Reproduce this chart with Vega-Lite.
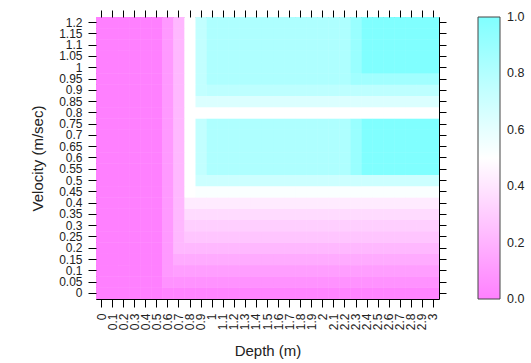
{
"$schema": "https://vega.github.io/schema/vega-lite/v6.json",
"width": 343, "height": 282,
"autosize": "none",
"padding": {"left": 96, "top": 17, "right": 92, "bottom": 64},
"background": "white",
"config": {
 "font": "Liberation Sans",
 "view": {"stroke": "#000", "strokeWidth": 1},
 "axis": {"domainColor": "#000", "tickColor": "#000", "tickSize": 8, "labelFont": "Liberation Sans", "labelFontSize": 12, "labelColor": "#222", "titleFont": "Liberation Sans", "titleFontSize": 15, "titleFontWeight": "normal", "titleColor": "#222", "grid": false, "labelOverlap": false, "labelBound": false}
},
"data": {"values": [
{"d":0,"v":0,"z":0},{"d":0.1,"v":0,"z":0},{"d":0.2,"v":0,"z":0},{"d":0.3,"v":0,"z":0},{"d":0.4,"v":0,"z":0},{"d":0.5,"v":0,"z":0},{"d":0.6,"v":0,"z":0.02},{"d":0.7,"v":0,"z":0.02},{"d":0.8,"v":0,"z":0.02},{"d":0.9,"v":0,"z":0.02},{"d":1,"v":0,"z":0.02},{"d":1.1,"v":0,"z":0.02},{"d":1.2,"v":0,"z":0.02},{"d":1.3,"v":0,"z":0.02},{"d":1.4,"v":0,"z":0.02},{"d":1.5,"v":0,"z":0.02},{"d":1.6,"v":0,"z":0.02},{"d":1.7,"v":0,"z":0.02},{"d":1.8,"v":0,"z":0.02},{"d":1.9,"v":0,"z":0.02},{"d":2,"v":0,"z":0.02},{"d":2.1,"v":0,"z":0.02},{"d":2.2,"v":0,"z":0.02},{"d":2.3,"v":0,"z":0.02},{"d":2.4,"v":0,"z":0.02},{"d":2.5,"v":0,"z":0.02},{"d":2.6,"v":0,"z":0.02},{"d":2.7,"v":0,"z":0.02},{"d":2.8,"v":0,"z":0.02},{"d":2.9,"v":0,"z":0.02},{"d":3,"v":0,"z":0.02},
{"d":0,"v":0.05,"z":0},{"d":0.1,"v":0.05,"z":0},{"d":0.2,"v":0.05,"z":0},{"d":0.3,"v":0.05,"z":0},{"d":0.4,"v":0.05,"z":0},{"d":0.5,"v":0.05,"z":0},{"d":0.6,"v":0.05,"z":0.07},{"d":0.7,"v":0.05,"z":0.07},{"d":0.8,"v":0.05,"z":0.07},{"d":0.9,"v":0.05,"z":0.07},{"d":1,"v":0.05,"z":0.07},{"d":1.1,"v":0.05,"z":0.07},{"d":1.2,"v":0.05,"z":0.07},{"d":1.3,"v":0.05,"z":0.07},{"d":1.4,"v":0.05,"z":0.07},{"d":1.5,"v":0.05,"z":0.07},{"d":1.6,"v":0.05,"z":0.07},{"d":1.7,"v":0.05,"z":0.07},{"d":1.8,"v":0.05,"z":0.07},{"d":1.9,"v":0.05,"z":0.07},{"d":2,"v":0.05,"z":0.07},{"d":2.1,"v":0.05,"z":0.07},{"d":2.2,"v":0.05,"z":0.07},{"d":2.3,"v":0.05,"z":0.07},{"d":2.4,"v":0.05,"z":0.07},{"d":2.5,"v":0.05,"z":0.07},{"d":2.6,"v":0.05,"z":0.07},{"d":2.7,"v":0.05,"z":0.07},{"d":2.8,"v":0.05,"z":0.07},{"d":2.9,"v":0.05,"z":0.07},{"d":3,"v":0.05,"z":0.07},
{"d":0,"v":0.1,"z":0},{"d":0.1,"v":0.1,"z":0},{"d":0.2,"v":0.1,"z":0},{"d":0.3,"v":0.1,"z":0},{"d":0.4,"v":0.1,"z":0},{"d":0.5,"v":0.1,"z":0},{"d":0.6,"v":0.1,"z":0.1},{"d":0.7,"v":0.1,"z":0.12},{"d":0.8,"v":0.1,"z":0.12},{"d":0.9,"v":0.1,"z":0.12},{"d":1,"v":0.1,"z":0.12},{"d":1.1,"v":0.1,"z":0.12},{"d":1.2,"v":0.1,"z":0.12},{"d":1.3,"v":0.1,"z":0.12},{"d":1.4,"v":0.1,"z":0.12},{"d":1.5,"v":0.1,"z":0.12},{"d":1.6,"v":0.1,"z":0.12},{"d":1.7,"v":0.1,"z":0.12},{"d":1.8,"v":0.1,"z":0.12},{"d":1.9,"v":0.1,"z":0.12},{"d":2,"v":0.1,"z":0.12},{"d":2.1,"v":0.1,"z":0.12},{"d":2.2,"v":0.1,"z":0.12},{"d":2.3,"v":0.1,"z":0.12},{"d":2.4,"v":0.1,"z":0.12},{"d":2.5,"v":0.1,"z":0.12},{"d":2.6,"v":0.1,"z":0.12},{"d":2.7,"v":0.1,"z":0.12},{"d":2.8,"v":0.1,"z":0.12},{"d":2.9,"v":0.1,"z":0.12},{"d":3,"v":0.1,"z":0.12},
{"d":0,"v":0.15,"z":0},{"d":0.1,"v":0.15,"z":0},{"d":0.2,"v":0.15,"z":0},{"d":0.3,"v":0.15,"z":0},{"d":0.4,"v":0.15,"z":0},{"d":0.5,"v":0.15,"z":0},{"d":0.6,"v":0.15,"z":0.1},{"d":0.7,"v":0.15,"z":0.17},{"d":0.8,"v":0.15,"z":0.17},{"d":0.9,"v":0.15,"z":0.17},{"d":1,"v":0.15,"z":0.17},{"d":1.1,"v":0.15,"z":0.17},{"d":1.2,"v":0.15,"z":0.17},{"d":1.3,"v":0.15,"z":0.17},{"d":1.4,"v":0.15,"z":0.17},{"d":1.5,"v":0.15,"z":0.17},{"d":1.6,"v":0.15,"z":0.17},{"d":1.7,"v":0.15,"z":0.17},{"d":1.8,"v":0.15,"z":0.17},{"d":1.9,"v":0.15,"z":0.17},{"d":2,"v":0.15,"z":0.17},{"d":2.1,"v":0.15,"z":0.17},{"d":2.2,"v":0.15,"z":0.17},{"d":2.3,"v":0.15,"z":0.17},{"d":2.4,"v":0.15,"z":0.17},{"d":2.5,"v":0.15,"z":0.17},{"d":2.6,"v":0.15,"z":0.17},{"d":2.7,"v":0.15,"z":0.17},{"d":2.8,"v":0.15,"z":0.17},{"d":2.9,"v":0.15,"z":0.17},{"d":3,"v":0.15,"z":0.17},
{"d":0,"v":0.2,"z":0},{"d":0.1,"v":0.2,"z":0},{"d":0.2,"v":0.2,"z":0},{"d":0.3,"v":0.2,"z":0},{"d":0.4,"v":0.2,"z":0},{"d":0.5,"v":0.2,"z":0},{"d":0.6,"v":0.2,"z":0.1},{"d":0.7,"v":0.2,"z":0.22},{"d":0.8,"v":0.2,"z":0.22},{"d":0.9,"v":0.2,"z":0.22},{"d":1,"v":0.2,"z":0.22},{"d":1.1,"v":0.2,"z":0.22},{"d":1.2,"v":0.2,"z":0.22},{"d":1.3,"v":0.2,"z":0.22},{"d":1.4,"v":0.2,"z":0.22},{"d":1.5,"v":0.2,"z":0.22},{"d":1.6,"v":0.2,"z":0.22},{"d":1.7,"v":0.2,"z":0.22},{"d":1.8,"v":0.2,"z":0.22},{"d":1.9,"v":0.2,"z":0.22},{"d":2,"v":0.2,"z":0.22},{"d":2.1,"v":0.2,"z":0.22},{"d":2.2,"v":0.2,"z":0.22},{"d":2.3,"v":0.2,"z":0.22},{"d":2.4,"v":0.2,"z":0.22},{"d":2.5,"v":0.2,"z":0.22},{"d":2.6,"v":0.2,"z":0.22},{"d":2.7,"v":0.2,"z":0.22},{"d":2.8,"v":0.2,"z":0.22},{"d":2.9,"v":0.2,"z":0.22},{"d":3,"v":0.2,"z":0.22},
{"d":0,"v":0.25,"z":0},{"d":0.1,"v":0.25,"z":0},{"d":0.2,"v":0.25,"z":0},{"d":0.3,"v":0.25,"z":0},{"d":0.4,"v":0.25,"z":0},{"d":0.5,"v":0.25,"z":0},{"d":0.6,"v":0.25,"z":0.1},{"d":0.7,"v":0.25,"z":0.22},{"d":0.8,"v":0.25,"z":0.27},{"d":0.9,"v":0.25,"z":0.27},{"d":1,"v":0.25,"z":0.27},{"d":1.1,"v":0.25,"z":0.27},{"d":1.2,"v":0.25,"z":0.27},{"d":1.3,"v":0.25,"z":0.27},{"d":1.4,"v":0.25,"z":0.27},{"d":1.5,"v":0.25,"z":0.27},{"d":1.6,"v":0.25,"z":0.27},{"d":1.7,"v":0.25,"z":0.27},{"d":1.8,"v":0.25,"z":0.27},{"d":1.9,"v":0.25,"z":0.27},{"d":2,"v":0.25,"z":0.27},{"d":2.1,"v":0.25,"z":0.27},{"d":2.2,"v":0.25,"z":0.27},{"d":2.3,"v":0.25,"z":0.27},{"d":2.4,"v":0.25,"z":0.27},{"d":2.5,"v":0.25,"z":0.27},{"d":2.6,"v":0.25,"z":0.27},{"d":2.7,"v":0.25,"z":0.27},{"d":2.8,"v":0.25,"z":0.27},{"d":2.9,"v":0.25,"z":0.27},{"d":3,"v":0.25,"z":0.27},
{"d":0,"v":0.3,"z":0},{"d":0.1,"v":0.3,"z":0},{"d":0.2,"v":0.3,"z":0},{"d":0.3,"v":0.3,"z":0},{"d":0.4,"v":0.3,"z":0},{"d":0.5,"v":0.3,"z":0},{"d":0.6,"v":0.3,"z":0.1},{"d":0.7,"v":0.3,"z":0.22},{"d":0.8,"v":0.3,"z":0.31},{"d":0.9,"v":0.3,"z":0.31},{"d":1,"v":0.3,"z":0.31},{"d":1.1,"v":0.3,"z":0.31},{"d":1.2,"v":0.3,"z":0.31},{"d":1.3,"v":0.3,"z":0.31},{"d":1.4,"v":0.3,"z":0.31},{"d":1.5,"v":0.3,"z":0.31},{"d":1.6,"v":0.3,"z":0.31},{"d":1.7,"v":0.3,"z":0.31},{"d":1.8,"v":0.3,"z":0.31},{"d":1.9,"v":0.3,"z":0.31},{"d":2,"v":0.3,"z":0.31},{"d":2.1,"v":0.3,"z":0.31},{"d":2.2,"v":0.3,"z":0.31},{"d":2.3,"v":0.3,"z":0.31},{"d":2.4,"v":0.3,"z":0.31},{"d":2.5,"v":0.3,"z":0.31},{"d":2.6,"v":0.3,"z":0.31},{"d":2.7,"v":0.3,"z":0.31},{"d":2.8,"v":0.3,"z":0.31},{"d":2.9,"v":0.3,"z":0.31},{"d":3,"v":0.3,"z":0.31},
{"d":0,"v":0.35,"z":0},{"d":0.1,"v":0.35,"z":0},{"d":0.2,"v":0.35,"z":0},{"d":0.3,"v":0.35,"z":0},{"d":0.4,"v":0.35,"z":0},{"d":0.5,"v":0.35,"z":0},{"d":0.6,"v":0.35,"z":0.1},{"d":0.7,"v":0.35,"z":0.22},{"d":0.8,"v":0.35,"z":0.36},{"d":0.9,"v":0.35,"z":0.36},{"d":1,"v":0.35,"z":0.36},{"d":1.1,"v":0.35,"z":0.36},{"d":1.2,"v":0.35,"z":0.36},{"d":1.3,"v":0.35,"z":0.36},{"d":1.4,"v":0.35,"z":0.36},{"d":1.5,"v":0.35,"z":0.36},{"d":1.6,"v":0.35,"z":0.36},{"d":1.7,"v":0.35,"z":0.36},{"d":1.8,"v":0.35,"z":0.36},{"d":1.9,"v":0.35,"z":0.36},{"d":2,"v":0.35,"z":0.36},{"d":2.1,"v":0.35,"z":0.36},{"d":2.2,"v":0.35,"z":0.36},{"d":2.3,"v":0.35,"z":0.36},{"d":2.4,"v":0.35,"z":0.36},{"d":2.5,"v":0.35,"z":0.36},{"d":2.6,"v":0.35,"z":0.36},{"d":2.7,"v":0.35,"z":0.36},{"d":2.8,"v":0.35,"z":0.36},{"d":2.9,"v":0.35,"z":0.36},{"d":3,"v":0.35,"z":0.36},
{"d":0,"v":0.4,"z":0},{"d":0.1,"v":0.4,"z":0},{"d":0.2,"v":0.4,"z":0},{"d":0.3,"v":0.4,"z":0},{"d":0.4,"v":0.4,"z":0},{"d":0.5,"v":0.4,"z":0},{"d":0.6,"v":0.4,"z":0.1},{"d":0.7,"v":0.4,"z":0.22},{"d":0.8,"v":0.4,"z":0.42},{"d":0.9,"v":0.4,"z":0.42},{"d":1,"v":0.4,"z":0.42},{"d":1.1,"v":0.4,"z":0.42},{"d":1.2,"v":0.4,"z":0.42},{"d":1.3,"v":0.4,"z":0.42},{"d":1.4,"v":0.4,"z":0.42},{"d":1.5,"v":0.4,"z":0.42},{"d":1.6,"v":0.4,"z":0.42},{"d":1.7,"v":0.4,"z":0.42},{"d":1.8,"v":0.4,"z":0.42},{"d":1.9,"v":0.4,"z":0.42},{"d":2,"v":0.4,"z":0.42},{"d":2.1,"v":0.4,"z":0.42},{"d":2.2,"v":0.4,"z":0.42},{"d":2.3,"v":0.4,"z":0.42},{"d":2.4,"v":0.4,"z":0.42},{"d":2.5,"v":0.4,"z":0.42},{"d":2.6,"v":0.4,"z":0.42},{"d":2.7,"v":0.4,"z":0.42},{"d":2.8,"v":0.4,"z":0.42},{"d":2.9,"v":0.4,"z":0.42},{"d":3,"v":0.4,"z":0.42},
{"d":0,"v":0.45,"z":0},{"d":0.1,"v":0.45,"z":0},{"d":0.2,"v":0.45,"z":0},{"d":0.3,"v":0.45,"z":0},{"d":0.4,"v":0.45,"z":0},{"d":0.5,"v":0.45,"z":0},{"d":0.6,"v":0.45,"z":0.1},{"d":0.7,"v":0.45,"z":0.22},{"d":0.8,"v":0.45,"z":0.5},{"d":0.9,"v":0.45,"z":0.52},{"d":1,"v":0.45,"z":0.52},{"d":1.1,"v":0.45,"z":0.52},{"d":1.2,"v":0.45,"z":0.52},{"d":1.3,"v":0.45,"z":0.52},{"d":1.4,"v":0.45,"z":0.52},{"d":1.5,"v":0.45,"z":0.52},{"d":1.6,"v":0.45,"z":0.52},{"d":1.7,"v":0.45,"z":0.52},{"d":1.8,"v":0.45,"z":0.52},{"d":1.9,"v":0.45,"z":0.52},{"d":2,"v":0.45,"z":0.52},{"d":2.1,"v":0.45,"z":0.52},{"d":2.2,"v":0.45,"z":0.52},{"d":2.3,"v":0.45,"z":0.52},{"d":2.4,"v":0.45,"z":0.52},{"d":2.5,"v":0.45,"z":0.52},{"d":2.6,"v":0.45,"z":0.52},{"d":2.7,"v":0.45,"z":0.52},{"d":2.8,"v":0.45,"z":0.52},{"d":2.9,"v":0.45,"z":0.52},{"d":3,"v":0.45,"z":0.52},
{"d":0,"v":0.5,"z":0},{"d":0.1,"v":0.5,"z":0},{"d":0.2,"v":0.5,"z":0},{"d":0.3,"v":0.5,"z":0},{"d":0.4,"v":0.5,"z":0},{"d":0.5,"v":0.5,"z":0},{"d":0.6,"v":0.5,"z":0.1},{"d":0.7,"v":0.5,"z":0.22},{"d":0.8,"v":0.5,"z":0.5},{"d":0.9,"v":0.5,"z":0.7},{"d":1,"v":0.5,"z":0.7},{"d":1.1,"v":0.5,"z":0.7},{"d":1.2,"v":0.5,"z":0.7},{"d":1.3,"v":0.5,"z":0.7},{"d":1.4,"v":0.5,"z":0.7},{"d":1.5,"v":0.5,"z":0.7},{"d":1.6,"v":0.5,"z":0.7},{"d":1.7,"v":0.5,"z":0.7},{"d":1.8,"v":0.5,"z":0.7},{"d":1.9,"v":0.5,"z":0.7},{"d":2,"v":0.5,"z":0.7},{"d":2.1,"v":0.5,"z":0.7},{"d":2.2,"v":0.5,"z":0.7},{"d":2.3,"v":0.5,"z":0.7},{"d":2.4,"v":0.5,"z":0.7},{"d":2.5,"v":0.5,"z":0.7},{"d":2.6,"v":0.5,"z":0.7},{"d":2.7,"v":0.5,"z":0.7},{"d":2.8,"v":0.5,"z":0.7},{"d":2.9,"v":0.5,"z":0.7},{"d":3,"v":0.5,"z":0.7},
{"d":0,"v":0.55,"z":0},{"d":0.1,"v":0.55,"z":0},{"d":0.2,"v":0.55,"z":0},{"d":0.3,"v":0.55,"z":0},{"d":0.4,"v":0.55,"z":0},{"d":0.5,"v":0.55,"z":0},{"d":0.6,"v":0.55,"z":0.1},{"d":0.7,"v":0.55,"z":0.22},{"d":0.8,"v":0.55,"z":0.5},{"d":0.9,"v":0.55,"z":0.74},{"d":1,"v":0.55,"z":0.82},{"d":1.1,"v":0.55,"z":0.82},{"d":1.2,"v":0.55,"z":0.82},{"d":1.3,"v":0.55,"z":0.82},{"d":1.4,"v":0.55,"z":0.82},{"d":1.5,"v":0.55,"z":0.82},{"d":1.6,"v":0.55,"z":0.82},{"d":1.7,"v":0.55,"z":0.82},{"d":1.8,"v":0.55,"z":0.82},{"d":1.9,"v":0.55,"z":0.82},{"d":2,"v":0.55,"z":0.82},{"d":2.1,"v":0.55,"z":0.82},{"d":2.2,"v":0.55,"z":0.82},{"d":2.3,"v":0.55,"z":0.9},{"d":2.4,"v":0.55,"z":1},{"d":2.5,"v":0.55,"z":1},{"d":2.6,"v":0.55,"z":1},{"d":2.7,"v":0.55,"z":1},{"d":2.8,"v":0.55,"z":1},{"d":2.9,"v":0.55,"z":1},{"d":3,"v":0.55,"z":1},
{"d":0,"v":0.6,"z":0},{"d":0.1,"v":0.6,"z":0},{"d":0.2,"v":0.6,"z":0},{"d":0.3,"v":0.6,"z":0},{"d":0.4,"v":0.6,"z":0},{"d":0.5,"v":0.6,"z":0},{"d":0.6,"v":0.6,"z":0.1},{"d":0.7,"v":0.6,"z":0.22},{"d":0.8,"v":0.6,"z":0.5},{"d":0.9,"v":0.6,"z":0.74},{"d":1,"v":0.6,"z":0.82},{"d":1.1,"v":0.6,"z":0.82},{"d":1.2,"v":0.6,"z":0.82},{"d":1.3,"v":0.6,"z":0.82},{"d":1.4,"v":0.6,"z":0.82},{"d":1.5,"v":0.6,"z":0.82},{"d":1.6,"v":0.6,"z":0.82},{"d":1.7,"v":0.6,"z":0.82},{"d":1.8,"v":0.6,"z":0.82},{"d":1.9,"v":0.6,"z":0.82},{"d":2,"v":0.6,"z":0.82},{"d":2.1,"v":0.6,"z":0.82},{"d":2.2,"v":0.6,"z":0.82},{"d":2.3,"v":0.6,"z":0.9},{"d":2.4,"v":0.6,"z":1},{"d":2.5,"v":0.6,"z":1},{"d":2.6,"v":0.6,"z":1},{"d":2.7,"v":0.6,"z":1},{"d":2.8,"v":0.6,"z":1},{"d":2.9,"v":0.6,"z":1},{"d":3,"v":0.6,"z":1},
{"d":0,"v":0.65,"z":0},{"d":0.1,"v":0.65,"z":0},{"d":0.2,"v":0.65,"z":0},{"d":0.3,"v":0.65,"z":0},{"d":0.4,"v":0.65,"z":0},{"d":0.5,"v":0.65,"z":0},{"d":0.6,"v":0.65,"z":0.1},{"d":0.7,"v":0.65,"z":0.22},{"d":0.8,"v":0.65,"z":0.5},{"d":0.9,"v":0.65,"z":0.74},{"d":1,"v":0.65,"z":0.82},{"d":1.1,"v":0.65,"z":0.82},{"d":1.2,"v":0.65,"z":0.82},{"d":1.3,"v":0.65,"z":0.82},{"d":1.4,"v":0.65,"z":0.82},{"d":1.5,"v":0.65,"z":0.82},{"d":1.6,"v":0.65,"z":0.82},{"d":1.7,"v":0.65,"z":0.82},{"d":1.8,"v":0.65,"z":0.82},{"d":1.9,"v":0.65,"z":0.82},{"d":2,"v":0.65,"z":0.82},{"d":2.1,"v":0.65,"z":0.82},{"d":2.2,"v":0.65,"z":0.82},{"d":2.3,"v":0.65,"z":0.9},{"d":2.4,"v":0.65,"z":1},{"d":2.5,"v":0.65,"z":1},{"d":2.6,"v":0.65,"z":1},{"d":2.7,"v":0.65,"z":1},{"d":2.8,"v":0.65,"z":1},{"d":2.9,"v":0.65,"z":1},{"d":3,"v":0.65,"z":1},
{"d":0,"v":0.7,"z":0},{"d":0.1,"v":0.7,"z":0},{"d":0.2,"v":0.7,"z":0},{"d":0.3,"v":0.7,"z":0},{"d":0.4,"v":0.7,"z":0},{"d":0.5,"v":0.7,"z":0},{"d":0.6,"v":0.7,"z":0.1},{"d":0.7,"v":0.7,"z":0.22},{"d":0.8,"v":0.7,"z":0.5},{"d":0.9,"v":0.7,"z":0.74},{"d":1,"v":0.7,"z":0.82},{"d":1.1,"v":0.7,"z":0.82},{"d":1.2,"v":0.7,"z":0.82},{"d":1.3,"v":0.7,"z":0.82},{"d":1.4,"v":0.7,"z":0.82},{"d":1.5,"v":0.7,"z":0.82},{"d":1.6,"v":0.7,"z":0.82},{"d":1.7,"v":0.7,"z":0.82},{"d":1.8,"v":0.7,"z":0.82},{"d":1.9,"v":0.7,"z":0.82},{"d":2,"v":0.7,"z":0.82},{"d":2.1,"v":0.7,"z":0.82},{"d":2.2,"v":0.7,"z":0.82},{"d":2.3,"v":0.7,"z":0.9},{"d":2.4,"v":0.7,"z":1},{"d":2.5,"v":0.7,"z":1},{"d":2.6,"v":0.7,"z":1},{"d":2.7,"v":0.7,"z":1},{"d":2.8,"v":0.7,"z":1},{"d":2.9,"v":0.7,"z":1},{"d":3,"v":0.7,"z":1},
{"d":0,"v":0.75,"z":0},{"d":0.1,"v":0.75,"z":0},{"d":0.2,"v":0.75,"z":0},{"d":0.3,"v":0.75,"z":0},{"d":0.4,"v":0.75,"z":0},{"d":0.5,"v":0.75,"z":0},{"d":0.6,"v":0.75,"z":0.1},{"d":0.7,"v":0.75,"z":0.22},{"d":0.8,"v":0.75,"z":0.5},{"d":0.9,"v":0.75,"z":0.74},{"d":1,"v":0.75,"z":0.82},{"d":1.1,"v":0.75,"z":0.82},{"d":1.2,"v":0.75,"z":0.82},{"d":1.3,"v":0.75,"z":0.82},{"d":1.4,"v":0.75,"z":0.82},{"d":1.5,"v":0.75,"z":0.82},{"d":1.6,"v":0.75,"z":0.82},{"d":1.7,"v":0.75,"z":0.82},{"d":1.8,"v":0.75,"z":0.82},{"d":1.9,"v":0.75,"z":0.82},{"d":2,"v":0.75,"z":0.82},{"d":2.1,"v":0.75,"z":0.82},{"d":2.2,"v":0.75,"z":0.82},{"d":2.3,"v":0.75,"z":0.9},{"d":2.4,"v":0.75,"z":1},{"d":2.5,"v":0.75,"z":1},{"d":2.6,"v":0.75,"z":1},{"d":2.7,"v":0.75,"z":1},{"d":2.8,"v":0.75,"z":1},{"d":2.9,"v":0.75,"z":1},{"d":3,"v":0.75,"z":1},
{"d":0,"v":0.8,"z":0},{"d":0.1,"v":0.8,"z":0},{"d":0.2,"v":0.8,"z":0},{"d":0.3,"v":0.8,"z":0},{"d":0.4,"v":0.8,"z":0},{"d":0.5,"v":0.8,"z":0},{"d":0.6,"v":0.8,"z":0.1},{"d":0.7,"v":0.8,"z":0.22},{"d":0.8,"v":0.8,"z":0.5},{"d":0.9,"v":0.8,"z":0.5},{"d":1,"v":0.8,"z":0.5},{"d":1.1,"v":0.8,"z":0.5},{"d":1.2,"v":0.8,"z":0.5},{"d":1.3,"v":0.8,"z":0.5},{"d":1.4,"v":0.8,"z":0.5},{"d":1.5,"v":0.8,"z":0.5},{"d":1.6,"v":0.8,"z":0.5},{"d":1.7,"v":0.8,"z":0.5},{"d":1.8,"v":0.8,"z":0.5},{"d":1.9,"v":0.8,"z":0.5},{"d":2,"v":0.8,"z":0.5},{"d":2.1,"v":0.8,"z":0.5},{"d":2.2,"v":0.8,"z":0.5},{"d":2.3,"v":0.8,"z":0.5},{"d":2.4,"v":0.8,"z":0.5},{"d":2.5,"v":0.8,"z":0.5},{"d":2.6,"v":0.8,"z":0.5},{"d":2.7,"v":0.8,"z":0.5},{"d":2.8,"v":0.8,"z":0.5},{"d":2.9,"v":0.8,"z":0.5},{"d":3,"v":0.8,"z":0.5},
{"d":0,"v":0.85,"z":0},{"d":0.1,"v":0.85,"z":0},{"d":0.2,"v":0.85,"z":0},{"d":0.3,"v":0.85,"z":0},{"d":0.4,"v":0.85,"z":0},{"d":0.5,"v":0.85,"z":0},{"d":0.6,"v":0.85,"z":0.1},{"d":0.7,"v":0.85,"z":0.22},{"d":0.8,"v":0.85,"z":0.5},{"d":0.9,"v":0.85,"z":0.64},{"d":1,"v":0.85,"z":0.64},{"d":1.1,"v":0.85,"z":0.64},{"d":1.2,"v":0.85,"z":0.64},{"d":1.3,"v":0.85,"z":0.64},{"d":1.4,"v":0.85,"z":0.64},{"d":1.5,"v":0.85,"z":0.64},{"d":1.6,"v":0.85,"z":0.64},{"d":1.7,"v":0.85,"z":0.64},{"d":1.8,"v":0.85,"z":0.64},{"d":1.9,"v":0.85,"z":0.64},{"d":2,"v":0.85,"z":0.64},{"d":2.1,"v":0.85,"z":0.64},{"d":2.2,"v":0.85,"z":0.64},{"d":2.3,"v":0.85,"z":0.64},{"d":2.4,"v":0.85,"z":0.64},{"d":2.5,"v":0.85,"z":0.64},{"d":2.6,"v":0.85,"z":0.64},{"d":2.7,"v":0.85,"z":0.64},{"d":2.8,"v":0.85,"z":0.64},{"d":2.9,"v":0.85,"z":0.64},{"d":3,"v":0.85,"z":0.64},
{"d":0,"v":0.9,"z":0},{"d":0.1,"v":0.9,"z":0},{"d":0.2,"v":0.9,"z":0},{"d":0.3,"v":0.9,"z":0},{"d":0.4,"v":0.9,"z":0},{"d":0.5,"v":0.9,"z":0},{"d":0.6,"v":0.9,"z":0.1},{"d":0.7,"v":0.9,"z":0.22},{"d":0.8,"v":0.9,"z":0.5},{"d":0.9,"v":0.9,"z":0.74},{"d":1,"v":0.9,"z":0.76},{"d":1.1,"v":0.9,"z":0.76},{"d":1.2,"v":0.9,"z":0.76},{"d":1.3,"v":0.9,"z":0.76},{"d":1.4,"v":0.9,"z":0.76},{"d":1.5,"v":0.9,"z":0.76},{"d":1.6,"v":0.9,"z":0.76},{"d":1.7,"v":0.9,"z":0.76},{"d":1.8,"v":0.9,"z":0.76},{"d":1.9,"v":0.9,"z":0.76},{"d":2,"v":0.9,"z":0.76},{"d":2.1,"v":0.9,"z":0.76},{"d":2.2,"v":0.9,"z":0.76},{"d":2.3,"v":0.9,"z":0.76},{"d":2.4,"v":0.9,"z":0.76},{"d":2.5,"v":0.9,"z":0.76},{"d":2.6,"v":0.9,"z":0.76},{"d":2.7,"v":0.9,"z":0.76},{"d":2.8,"v":0.9,"z":0.76},{"d":2.9,"v":0.9,"z":0.76},{"d":3,"v":0.9,"z":0.76},
{"d":0,"v":0.95,"z":0},{"d":0.1,"v":0.95,"z":0},{"d":0.2,"v":0.95,"z":0},{"d":0.3,"v":0.95,"z":0},{"d":0.4,"v":0.95,"z":0},{"d":0.5,"v":0.95,"z":0},{"d":0.6,"v":0.95,"z":0.1},{"d":0.7,"v":0.95,"z":0.22},{"d":0.8,"v":0.95,"z":0.5},{"d":0.9,"v":0.95,"z":0.74},{"d":1,"v":0.95,"z":0.82},{"d":1.1,"v":0.95,"z":0.82},{"d":1.2,"v":0.95,"z":0.82},{"d":1.3,"v":0.95,"z":0.82},{"d":1.4,"v":0.95,"z":0.82},{"d":1.5,"v":0.95,"z":0.82},{"d":1.6,"v":0.95,"z":0.82},{"d":1.7,"v":0.95,"z":0.82},{"d":1.8,"v":0.95,"z":0.82},{"d":1.9,"v":0.95,"z":0.82},{"d":2,"v":0.95,"z":0.82},{"d":2.1,"v":0.95,"z":0.82},{"d":2.2,"v":0.95,"z":0.82},{"d":2.3,"v":0.95,"z":0.87},{"d":2.4,"v":0.95,"z":0.87},{"d":2.5,"v":0.95,"z":0.87},{"d":2.6,"v":0.95,"z":0.87},{"d":2.7,"v":0.95,"z":0.87},{"d":2.8,"v":0.95,"z":0.87},{"d":2.9,"v":0.95,"z":0.87},{"d":3,"v":0.95,"z":0.87},
{"d":0,"v":1,"z":0},{"d":0.1,"v":1,"z":0},{"d":0.2,"v":1,"z":0},{"d":0.3,"v":1,"z":0},{"d":0.4,"v":1,"z":0},{"d":0.5,"v":1,"z":0},{"d":0.6,"v":1,"z":0.1},{"d":0.7,"v":1,"z":0.22},{"d":0.8,"v":1,"z":0.5},{"d":0.9,"v":1,"z":0.74},{"d":1,"v":1,"z":0.82},{"d":1.1,"v":1,"z":0.82},{"d":1.2,"v":1,"z":0.82},{"d":1.3,"v":1,"z":0.82},{"d":1.4,"v":1,"z":0.82},{"d":1.5,"v":1,"z":0.82},{"d":1.6,"v":1,"z":0.82},{"d":1.7,"v":1,"z":0.82},{"d":1.8,"v":1,"z":0.82},{"d":1.9,"v":1,"z":0.82},{"d":2,"v":1,"z":0.82},{"d":2.1,"v":1,"z":0.82},{"d":2.2,"v":1,"z":0.82},{"d":2.3,"v":1,"z":0.9},{"d":2.4,"v":1,"z":1},{"d":2.5,"v":1,"z":1},{"d":2.6,"v":1,"z":1},{"d":2.7,"v":1,"z":1},{"d":2.8,"v":1,"z":1},{"d":2.9,"v":1,"z":1},{"d":3,"v":1,"z":1},
{"d":0,"v":1.05,"z":0},{"d":0.1,"v":1.05,"z":0},{"d":0.2,"v":1.05,"z":0},{"d":0.3,"v":1.05,"z":0},{"d":0.4,"v":1.05,"z":0},{"d":0.5,"v":1.05,"z":0},{"d":0.6,"v":1.05,"z":0.1},{"d":0.7,"v":1.05,"z":0.22},{"d":0.8,"v":1.05,"z":0.5},{"d":0.9,"v":1.05,"z":0.74},{"d":1,"v":1.05,"z":0.82},{"d":1.1,"v":1.05,"z":0.82},{"d":1.2,"v":1.05,"z":0.82},{"d":1.3,"v":1.05,"z":0.82},{"d":1.4,"v":1.05,"z":0.82},{"d":1.5,"v":1.05,"z":0.82},{"d":1.6,"v":1.05,"z":0.82},{"d":1.7,"v":1.05,"z":0.82},{"d":1.8,"v":1.05,"z":0.82},{"d":1.9,"v":1.05,"z":0.82},{"d":2,"v":1.05,"z":0.82},{"d":2.1,"v":1.05,"z":0.82},{"d":2.2,"v":1.05,"z":0.82},{"d":2.3,"v":1.05,"z":0.9},{"d":2.4,"v":1.05,"z":1},{"d":2.5,"v":1.05,"z":1},{"d":2.6,"v":1.05,"z":1},{"d":2.7,"v":1.05,"z":1},{"d":2.8,"v":1.05,"z":1},{"d":2.9,"v":1.05,"z":1},{"d":3,"v":1.05,"z":1},
{"d":0,"v":1.1,"z":0},{"d":0.1,"v":1.1,"z":0},{"d":0.2,"v":1.1,"z":0},{"d":0.3,"v":1.1,"z":0},{"d":0.4,"v":1.1,"z":0},{"d":0.5,"v":1.1,"z":0},{"d":0.6,"v":1.1,"z":0.1},{"d":0.7,"v":1.1,"z":0.22},{"d":0.8,"v":1.1,"z":0.5},{"d":0.9,"v":1.1,"z":0.74},{"d":1,"v":1.1,"z":0.82},{"d":1.1,"v":1.1,"z":0.82},{"d":1.2,"v":1.1,"z":0.82},{"d":1.3,"v":1.1,"z":0.82},{"d":1.4,"v":1.1,"z":0.82},{"d":1.5,"v":1.1,"z":0.82},{"d":1.6,"v":1.1,"z":0.82},{"d":1.7,"v":1.1,"z":0.82},{"d":1.8,"v":1.1,"z":0.82},{"d":1.9,"v":1.1,"z":0.82},{"d":2,"v":1.1,"z":0.82},{"d":2.1,"v":1.1,"z":0.82},{"d":2.2,"v":1.1,"z":0.82},{"d":2.3,"v":1.1,"z":0.9},{"d":2.4,"v":1.1,"z":1},{"d":2.5,"v":1.1,"z":1},{"d":2.6,"v":1.1,"z":1},{"d":2.7,"v":1.1,"z":1},{"d":2.8,"v":1.1,"z":1},{"d":2.9,"v":1.1,"z":1},{"d":3,"v":1.1,"z":1},
{"d":0,"v":1.15,"z":0},{"d":0.1,"v":1.15,"z":0},{"d":0.2,"v":1.15,"z":0},{"d":0.3,"v":1.15,"z":0},{"d":0.4,"v":1.15,"z":0},{"d":0.5,"v":1.15,"z":0},{"d":0.6,"v":1.15,"z":0.1},{"d":0.7,"v":1.15,"z":0.22},{"d":0.8,"v":1.15,"z":0.5},{"d":0.9,"v":1.15,"z":0.74},{"d":1,"v":1.15,"z":0.82},{"d":1.1,"v":1.15,"z":0.82},{"d":1.2,"v":1.15,"z":0.82},{"d":1.3,"v":1.15,"z":0.82},{"d":1.4,"v":1.15,"z":0.82},{"d":1.5,"v":1.15,"z":0.82},{"d":1.6,"v":1.15,"z":0.82},{"d":1.7,"v":1.15,"z":0.82},{"d":1.8,"v":1.15,"z":0.82},{"d":1.9,"v":1.15,"z":0.82},{"d":2,"v":1.15,"z":0.82},{"d":2.1,"v":1.15,"z":0.82},{"d":2.2,"v":1.15,"z":0.82},{"d":2.3,"v":1.15,"z":0.9},{"d":2.4,"v":1.15,"z":1},{"d":2.5,"v":1.15,"z":1},{"d":2.6,"v":1.15,"z":1},{"d":2.7,"v":1.15,"z":1},{"d":2.8,"v":1.15,"z":1},{"d":2.9,"v":1.15,"z":1},{"d":3,"v":1.15,"z":1},
{"d":0,"v":1.2,"z":0},{"d":0.1,"v":1.2,"z":0},{"d":0.2,"v":1.2,"z":0},{"d":0.3,"v":1.2,"z":0},{"d":0.4,"v":1.2,"z":0},{"d":0.5,"v":1.2,"z":0},{"d":0.6,"v":1.2,"z":0.1},{"d":0.7,"v":1.2,"z":0.22},{"d":0.8,"v":1.2,"z":0.5},{"d":0.9,"v":1.2,"z":0.74},{"d":1,"v":1.2,"z":0.82},{"d":1.1,"v":1.2,"z":0.82},{"d":1.2,"v":1.2,"z":0.82},{"d":1.3,"v":1.2,"z":0.82},{"d":1.4,"v":1.2,"z":0.82},{"d":1.5,"v":1.2,"z":0.82},{"d":1.6,"v":1.2,"z":0.82},{"d":1.7,"v":1.2,"z":0.82},{"d":1.8,"v":1.2,"z":0.82},{"d":1.9,"v":1.2,"z":0.82},{"d":2,"v":1.2,"z":0.82},{"d":2.1,"v":1.2,"z":0.82},{"d":2.2,"v":1.2,"z":0.82},{"d":2.3,"v":1.2,"z":0.9},{"d":2.4,"v":1.2,"z":1},{"d":2.5,"v":1.2,"z":1},{"d":2.6,"v":1.2,"z":1},{"d":2.7,"v":1.2,"z":1},{"d":2.8,"v":1.2,"z":1},{"d":2.9,"v":1.2,"z":1},{"d":3,"v":1.2,"z":1}
]},
"layer": [
 {
  "mark": {"type": "rect"},
  "encoding": {
   "x": {"field": "d", "type": "ordinal", "scale": {"paddingInner": 0, "paddingOuter": 0},
         "axis": {"orient": "bottom", "labelAngle": -90, "labelPadding": 6, "title": "Depth (m)", "titlePadding": 14, "domain": false}},
   "y": {"field": "v", "type": "ordinal", "sort": "descending", "scale": {"paddingInner": 0, "paddingOuter": 0},
         "axis": {"orient": "left", "labelPadding": 6, "title": "Velocity (m/sec)", "titlePadding": 13, "domain": false}},
   "color": {"field": "z", "type": "quantitative",
     "scale": {"type": "linear", "domain": [0, 0.5, 1], "range": ["#ff80ff", "#ffffff", "#80ffff"], "interpolate": "rgb"},
     "legend": {"type": "gradient", "title": null, "orient": "right", "offset": 31, "gradientLength": 282, "gradientThickness": 22,
       "values": [0, 0.2, 0.4, 0.6, 0.8, 1], "format": ".1f", "labelFont": "Liberation Sans", "labelFontSize": 12.5, "labelColor": "#222",
       "labelOffset": 7, "gradientStrokeColor": "#444", "gradientStrokeWidth": 1,
       "encode": {"labels": {"update": {"baseline": {"value": "middle"}}}}}}
  }
 },
 {
  "mark": {"type": "rect"},
  "encoding": {
   "x": {"field": "d", "type": "ordinal", "scale": {"paddingInner": 0, "paddingOuter": 0},
         "axis": {"orient": "top", "labels": false, "title": null, "domain": false, "tickSize": 7}},
   "y": {"field": "v", "type": "ordinal", "sort": "descending", "scale": {"paddingInner": 0, "paddingOuter": 0},
         "axis": {"orient": "right", "labels": false, "title": null, "domain": false, "tickSize": 7}},
   "color": {"field": "z", "type": "quantitative"}
  }
 }
],
"resolve": {"axis": {"x": "independent", "y": "independent"}}
}
